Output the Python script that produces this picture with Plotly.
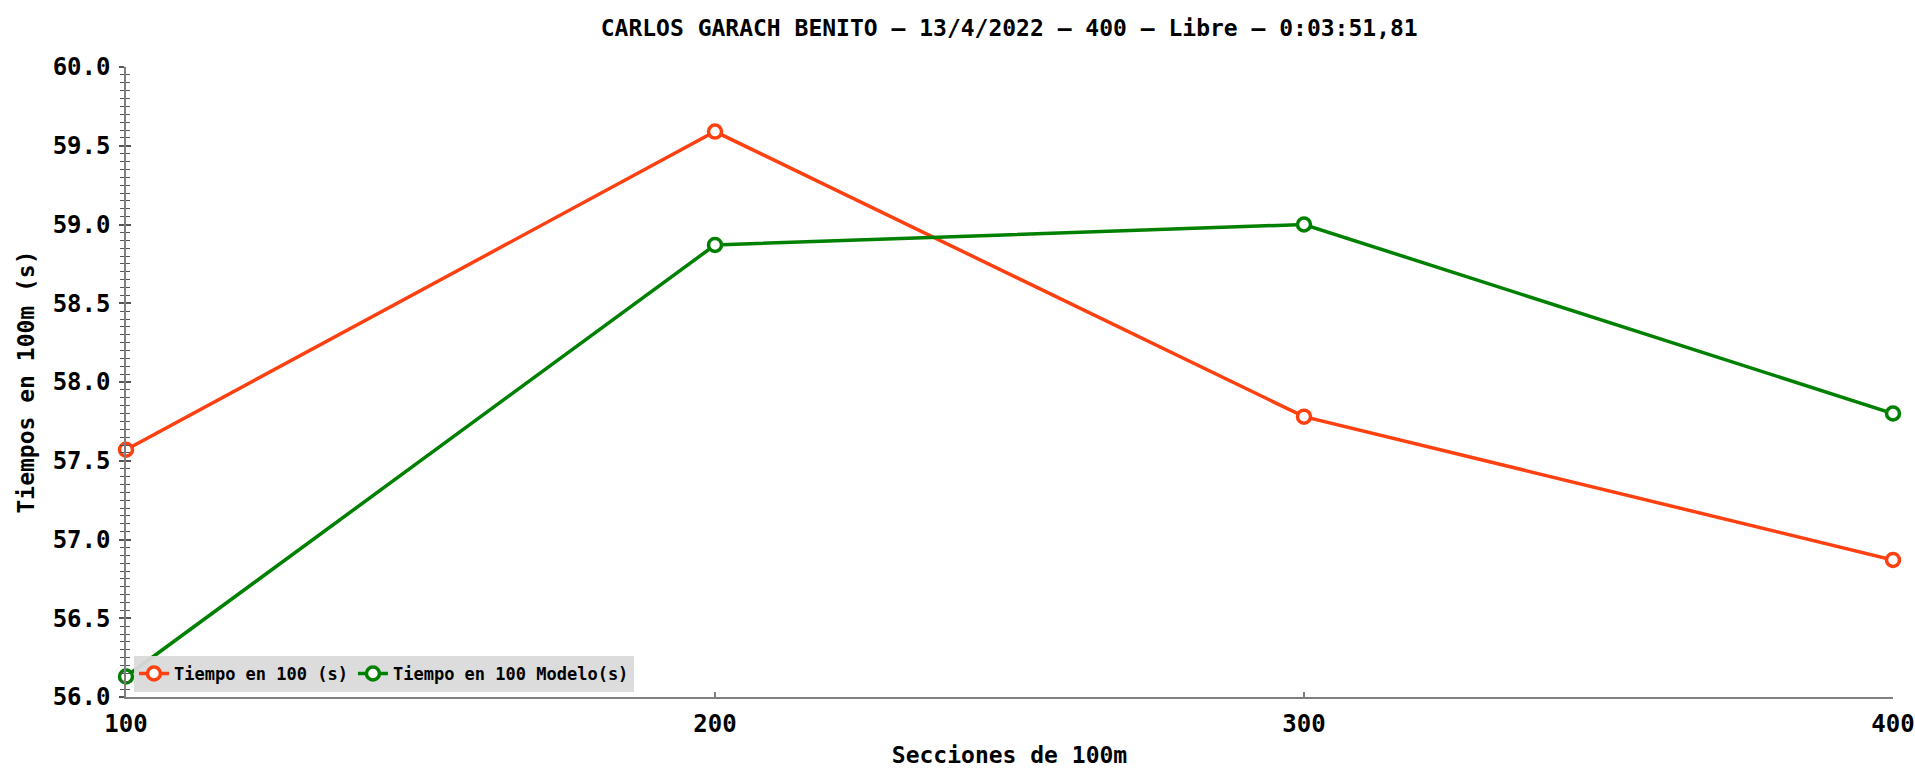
import plotly.graph_objects as go

# data
secciones = [100, 200, 300, 400]
tiempo_100 = [57.57, 59.59, 57.78, 56.87]
tiempo_modelo = [56.13, 58.87, 59.00, 57.80]

titulo = "CARLOS GARACH BENITO – 13/4/2022 – 400 – Libre – 0:03:51,81"
FONT = "DejaVu Sans Mono"
AXIS_COLOR = "#7f7f7f"

fig = go.Figure()

fig.add_trace(go.Scatter(
    x=secciones, y=tiempo_100, name="Tiempo en 100 (s)",
    mode="lines+markers", cliponaxis=False,
    line=dict(color="#ff4010", width=3.5),
    marker=dict(size=13, color="white", line=dict(color="#ff4010", width=3.5)),
))
fig.add_trace(go.Scatter(
    x=secciones, y=tiempo_modelo, name="Tiempo en 100 Modelo(s)",
    mode="lines+markers", cliponaxis=False,
    line=dict(color="#008000", width=3.5),
    marker=dict(size=13, color="white", line=dict(color="#008000", width=3.5)),
))
# invisible trace so the inside-tick overlay axis gets drawn
fig.add_trace(go.Scatter(x=[secciones[0]], y=[tiempo_100[0]], yaxis="y2",
                         mode="markers", marker=dict(opacity=0),
                         showlegend=False, hoverinfo="skip"))

fig.update_layout(
    width=1915, height=768,
    paper_bgcolor="white", plot_bgcolor="white",
    margin=dict(l=126, r=22, t=67, b=71),
    font=dict(family=FONT, color="black"),
    title=dict(text="<b>" + titulo + "</b>", x=0.527, xanchor="center",
               y=0.963, yanchor="middle", font=dict(size=23, family=FONT)),
    xaxis=dict(
        range=[100, 400], tickmode="array", tickvals=secciones,
        showgrid=False, zeroline=False, automargin=False,
        showline=True, linecolor=AXIS_COLOR, linewidth=1.5,
        ticks="inside", ticklen=5, tickcolor=AXIS_COLOR, tickwidth=1.5,
        tickfont=dict(size=24, family=FONT, weight="bold"), ticklabelstandoff=4,
        title=dict(text="<b>Secciones de 100m</b>", font=dict(size=23, family=FONT),
                   standoff=14),
    ),
    yaxis=dict(
        range=[56, 60], dtick=0.5, tick0=56, tickformat=".1f",
        showgrid=False, zeroline=False, automargin=False,
        showline=True, linecolor=AXIS_COLOR, linewidth=1.5,
        ticks="outside", ticklen=5, tickcolor="#555", tickwidth=1.5,
        minor=dict(dtick=0.05, ticks="outside", ticklen=4, tickcolor="#555", tickwidth=1),
        tickfont=dict(size=24, family=FONT, weight="bold"), ticklabelstandoff=4,
        title=dict(text="<b>Tiempos en 100m (s)</b>", font=dict(size=23, family=FONT),
                   standoff=12),
    ),
    yaxis2=dict(
        overlaying="y", side="left", range=[56, 60], dtick=0.5, tick0=56,
        showgrid=False, zeroline=False, showline=False, showticklabels=False,
        automargin=False,
        ticks="inside", ticklen=5, tickcolor="#555", tickwidth=1.5,
        minor=dict(dtick=0.05, ticks="inside", ticklen=4, tickcolor="#555", tickwidth=1),
    ),
    legend=dict(
        orientation="h", x=0.0045, y=0.008, xanchor="left", yanchor="bottom",
        bgcolor="rgba(218,218,218,0.95)", borderwidth=0,
        font=dict(size=17, family=FONT, weight="bold"), itemwidth=30,
        tracegroupgap=0,
    ),
    showlegend=True,
)

# page body margin would shift the fixed-size figure
fig.write_html("out.html", config={"displayModeBar": False},
               post_script="document.body.style.margin='0';")
